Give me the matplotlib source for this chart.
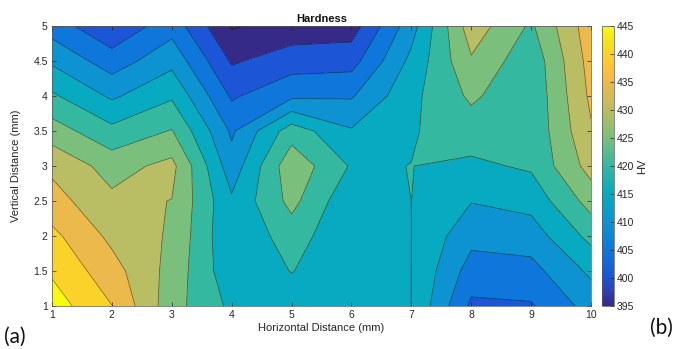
import numpy as np
import matplotlib.pyplot as plt
from matplotlib.colors import LinearSegmentedColormap, Normalize
from matplotlib.cm import ScalarMappable

# measurement grid (mm)
x_mm = [1, 2, 3, 4, 5, 6, 7, 8, 9, 10]
y_mm = [1.0, 1.5, 2.0, 2.5, 3.0, 3.5, 4.0, 4.5, 5.0]

# hardness (HV), one row per vertical position, bottom row first
hv_y10 = [447.5, 440.1, 427.0, 418.9, 417.5, 417.5, 420.01, 404.0, 404.5, 412.0]
hv_y15 = [444.3, 437.0, 428.2, 416.5, 420.15, 417.0, 420.01, 407.8, 408.3, 416.0]
hv_y20 = [441.3, 433.8, 429.3, 415.5, 422.5, 415.5, 420.01, 411.5, 412.5, 421.5]
hv_y25 = [437.0, 431.1, 429.9, 415.8, 426.5, 416.0, 420.01, 415.2, 416.7, 427.0]
hv_y30 = [433.9, 428.0, 431.5, 412.0, 428.5, 419.5, 420.05, 419.0, 420.7, 432.0]
hv_y35 = [427.4, 421.4, 425.3, 409.2, 422.7, 415.5, 419.6, 422.5, 421.0, 434.5]
hv_y40 = [420.8, 414.2, 419.3, 404.3, 409.0, 409.5, 418.7, 425.9, 421.0, 436.0]
hv_y45 = [414.2, 407.4, 413.5, 399.4, 402.5, 403.0, 416.3, 429.4, 421.5, 437.0]
hv_y50 = [407.6, 400.7, 408.0, 394.5, 397.0, 397.5, 412.9, 432.9, 424.2, 438.0]

cbar_ticks = [395, 400, 405, 410, 415, 420, 425, 430, 435, 440, 445]
levels = [390] + cbar_ticks + [450]

# parula-like colormap
parula = LinearSegmentedColormap.from_list('parula', [
    (0.00, (0.2081, 0.1663, 0.5292)),
    (0.05, (0.2063, 0.2425, 0.6847)),
    (0.10, (0.1050, 0.3350, 0.8420)),
    (0.20, (0.0577, 0.4677, 0.8589)),
    (0.30, (0.0503, 0.5752, 0.8229)),
    (0.40, (0.0290, 0.6662, 0.7573)),
    (0.50, (0.1990, 0.7214, 0.6309)),
    (0.60, (0.4781, 0.7489, 0.4879)),
    (0.70, (0.7218, 0.7408, 0.3891)),
    (0.75, (0.8265, 0.7320, 0.3464)),
    (0.80, (0.9263, 0.7259, 0.2992)),
    (0.85, (0.9967, 0.7564, 0.2272)),
    (0.90, (0.9816, 0.8210, 0.1681)),
    (0.95, (0.9594, 0.8912, 0.1159)),
    (1.00, (0.9763, 0.9831, 0.0538)),
])
norm = Normalize(vmin=395, vmax=445)

X, Y = np.meshgrid(x_mm, y_mm)
Z = np.array([hv_y10, hv_y15, hv_y20, hv_y25, hv_y30,
              hv_y35, hv_y40, hv_y45, hv_y50])

# each band takes the colour of its lower level
band_colors = [parula(norm(min(max(lv, 395), 445))) for lv in levels[:-1]]

plt.rcParams['font.family'] = ['Liberation Sans', 'DejaVu Sans']
txt = '#262626'

fig = plt.figure(figsize=(6.82, 3.49), dpi=100)
ax = fig.add_axes([0.0762, 0.123, 0.7904, 0.8025])

ax.contourf(X, Y, Z, levels=levels, colors=band_colors)
ax.contour(X, Y, Z, levels=levels, colors='k', linewidths=0.5, alpha=0.55)

ax.set_xlim(1, 10)
ax.set_ylim(1, 5)
ax.set_xticks(x_mm)
ax.set_yticks(y_mm)
ax.set_yticklabels(['1', '1.5', '2', '2.5', '3', '3.5', '4', '4.5', '5'])
ax.tick_params(direction='in', top=True, right=True, length=3, width=0.5,
               labelsize=7.5, colors=txt, pad=3)
for s in ax.spines.values():
    s.set_linewidth(0.5)
    s.set_color('#555555')

ax.set_title('Hardness', fontsize=8, fontweight='bold', color='#111111', pad=3)
ax.set_xlabel('Horizontal Distance (mm)', fontsize=8, color=txt, labelpad=2)
ax.set_ylabel('Vertical Distance (mm)', fontsize=8, color=txt, labelpad=9)

cax = fig.add_axes([0.8827, 0.123, 0.0176, 0.8025])
cb = fig.colorbar(ScalarMappable(norm=norm, cmap=parula), cax=cax, ticks=cbar_ticks)
cb.ax.tick_params(direction='in', length=3, width=0.5, labelsize=7.5, colors=txt, pad=2)
cb.outline.set_linewidth(0.5)
cb.outline.set_edgecolor('#555555')
cb.set_label('HV', fontsize=8, color=txt, labelpad=2)

fig.text(0.006, 0.018, '(a)', fontsize=15, family=['Lato', 'DejaVu Sans'], color='#111111')
fig.text(0.953, 0.043, '(b)', fontsize=15, family=['Lato', 'DejaVu Sans'], color='#111111')

fig.savefig('out.png', dpi=100)
